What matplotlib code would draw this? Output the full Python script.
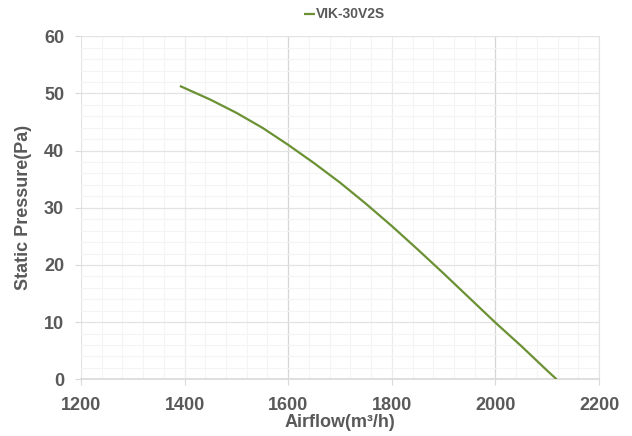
import numpy as np
import matplotlib
matplotlib.use('Agg')
import matplotlib.pyplot as plt
from matplotlib.ticker import MultipleLocator

plt.rcParams['font.family'] = ['Liberation Sans', 'DejaVu Sans']

# curve
airflow = [1391, 1450, 1500, 1550, 1600, 1650, 1700, 1750, 1800,
           1850, 1900, 1950, 2000, 2050, 2100, 2118]
pressure = [51.3, 48.9, 46.6, 44.0, 41.0, 37.8, 34.4, 30.7, 26.8,
            22.7, 18.5, 14.2, 9.9, 5.8, 1.5, 0.0]
series_name = 'VIK-30V2S'
xticks = [1200, 1400, 1600, 1800, 2000, 2200]
yticks = [0, 10, 20, 30, 40, 50, 60]

grey = '#595959'
green = '#6B9134'

fig = plt.figure(figsize=(6.32, 4.36), dpi=100)
ax = fig.add_axes([0.128, 0.130, 0.820, 0.787])

ax.plot(airflow, pressure, color=green, lw=1.6, label=series_name,
        solid_capstyle='butt', solid_joinstyle='round', zorder=3)

ax.set_xlim(1200, 2200)
ax.set_ylim(0, 60)
ax.set_xticks(xticks)
ax.set_yticks(yticks)
ax.xaxis.set_minor_locator(MultipleLocator(40))
ax.yaxis.set_minor_locator(MultipleLocator(2))

ax.grid(which='minor', color='#f4f4f4', lw=0.8)
ax.grid(which='major', color='#e3e3e3', lw=0.9)
for val, gl in zip(xticks, ax.get_xgridlines()):
    if val in (1600, 2000):
        gl.set_color('#d6d6d6')
    elif val in (1400, 1800):
        gl.set_color('#ececec')
ax.set_axisbelow(True)

for s in ['left', 'top']:
    ax.spines[s].set_visible(False)
ax.spines['right'].set_color('#e3e3e3')
ax.spines['bottom'].set_color('#d9d9d9')
ax.spines['bottom'].set_linewidth(1.2)

ax.tick_params(which='minor', length=0)
ax.tick_params(axis='x', which='major', length=4, color='#d9d9d9', pad=9,
               labelsize=13, labelcolor=grey)
ax.tick_params(axis='y', which='major', length=4, color='#d9d9d9', pad=8,
               labelsize=13, labelcolor=grey)
for lab in ax.get_xticklabels() + ax.get_yticklabels():
    lab.set_fontweight('bold')

ax.set_xlabel('Airflow(m³/h)', fontsize=13, fontweight='bold', color=grey, labelpad=0)
ax.set_ylabel('Static Pressure(Pa)', fontsize=13, fontweight='bold', color=grey, labelpad=9)

leg = fig.legend(loc='center', bbox_to_anchor=(0.545, 0.967), frameon=False,
                 handlelength=0.8, handletextpad=0.1, fontsize=10)
for t in leg.get_texts():
    t.set_color(grey)
    t.set_fontweight('bold')

plt.savefig('out.png', dpi=100)
